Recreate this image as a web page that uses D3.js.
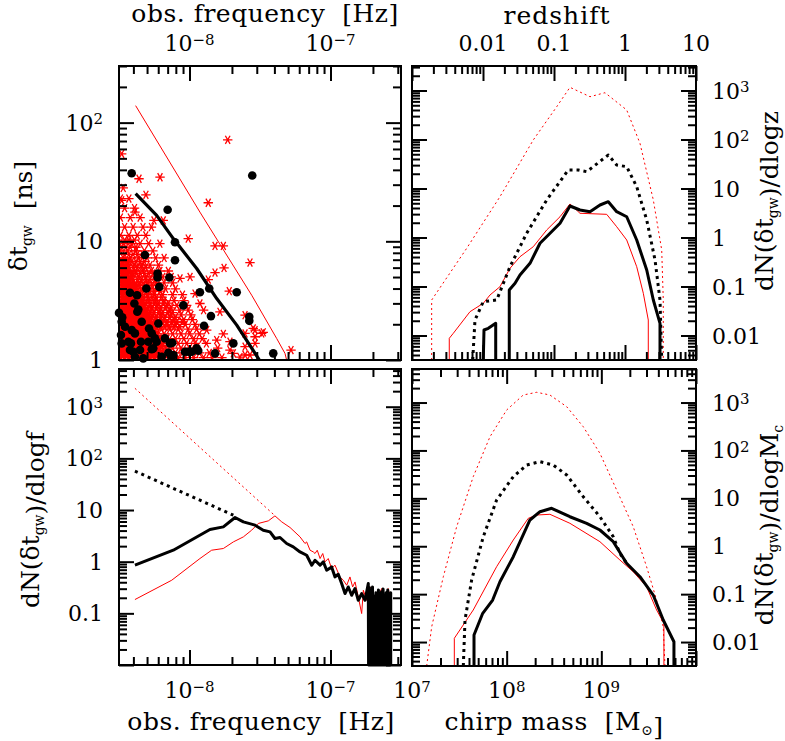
<!DOCTYPE html>
<html>
<head>
<meta charset="utf-8">
<script src="https://cdn.jsdelivr.net/npm/d3@7"></script>
<style>
  body { margin: 0; background: #fff; }
  svg text { font-family: "DejaVu Serif", serif; fill: #000; white-space: pre; }
</style>
</head>
<body>
<div id="chart"></div>
<script>
// all curve / point values are [log10 x, log10 y]

// ---- top left: delta t_gw vs observed frequency ----
const tlRedLine = [[-8.382,2.143],[-7.926,1.246],[-7.559,0.546],[-7.382,0.182],[-7.323,0.056],[-7.311,0]];
const tlBlackLine = [[-8.382,1.401],[-8.233,1.218],[-8.115,1.023],[-7.949,0.771],[-7.807,0.518],[-7.665,0.294],[-7.512,0.014],[-7.505,0]];

const tlCircles = [
  [-8.41,1.574],[-7.555,1.555],[-8.155,1.266],[-8.103,0.992],[-8.316,0.885],[-8.103,0.840],[-8.226,0.729],
  [-8.226,0.695],[-8.143,0.695],[-8.306,0.603],[-8.214,0.616],[-7.86,0.603],[-7.926,0.571],[-7.665,0.571],
  [-8.422,0.566],[-8.372,0.546],[-8.044,0.460],[-8.391,0.476],[-8.363,0.426],[-8.5,0.397],[-7.848,0.370],
  [-7.576,0.364],[-7.576,0.330],[-8.477,0.359],[-8.457,0.280],[-8.339,0.322],[-8.221,0.308],[-7.897,0.288],
  [-8.486,0.210],[-8.387,0.224],[-8.268,0.224],[-8.174,0.182],[-8.481,0.140],[-8.415,0.140],[-8.344,0.154],
  [-8.292,0.154],[-8.233,0.154],[-8.122,0.145],[-7.689,0.140],[-8.422,0.084],[-8.351,0.084],[-8.268,0.090],
  [-8.15,0.061],[-8.032,0.070],[-7.984,0.070],[-7.938,0.078],[-7.819,0.056],[-7.406,0.056],[-8.328,0.014],
  [-8.115,0.042],[-8.387,0.028],[-8.197,0.028],[-8.287,0.266],[-8.399,0.070],[-8.126,0.028],[-8.009,0.070],
  [-8.370,0.406],[-8.481,0.322],[-8.410,0.252],[-8.245,0.182],[-8.138,0.140],[-8.434,0.154],[-8.257,0.098],
  [-7.949,0.098]
];

// dense asterisk cloud, row by row: [log10 dt, [log10 f ...]]
const tlStarRows = [
  [0.02, [-8.49,-8.46,-8.43,-8.40,-8.37,-8.34,-8.31,-8.28,-8.25,-8.22,-8.18,-8.13,-8.08,-8.03,-7.97,-7.90,-7.84,-7.77]],
  [0.06, [-8.48,-8.45,-8.42,-8.39,-8.36,-8.33,-8.30,-8.27,-8.24,-8.20,-8.15,-8.10,-8.05,-7.99,-7.93,-7.86]],
  [0.10, [-8.49,-8.46,-8.43,-8.40,-8.37,-8.34,-8.31,-8.28,-8.25,-8.22,-8.17,-8.12,-8.06,-8.00,-7.95,-7.80]],
  [0.14, [-8.48,-8.45,-8.42,-8.39,-8.36,-8.33,-8.30,-8.27,-8.24,-8.19,-8.14,-8.08,-8.02,-7.96,-7.88]],
  [0.18, [-8.49,-8.46,-8.43,-8.40,-8.37,-8.34,-8.31,-8.28,-8.25,-8.21,-8.16,-8.10,-8.04,-7.97,-7.91]],
  [0.22, [-8.48,-8.45,-8.42,-8.39,-8.36,-8.33,-8.30,-8.27,-8.23,-8.18,-8.12,-8.06,-8.00,-7.93,-7.76]],
  [0.26, [-8.49,-8.46,-8.43,-8.40,-8.37,-8.34,-8.31,-8.28,-8.25,-8.20,-8.14,-8.08,-8.01,-7.95]],
  [0.30, [-8.48,-8.45,-8.42,-8.39,-8.36,-8.33,-8.30,-8.27,-8.22,-8.16,-8.10,-8.03,-7.96]],
  [0.34, [-8.49,-8.46,-8.43,-8.40,-8.37,-8.34,-8.31,-8.28,-8.24,-8.18,-8.11,-8.04,-7.98]],
  [0.38, [-8.48,-8.45,-8.42,-8.39,-8.36,-8.33,-8.30,-8.26,-8.20,-8.13,-8.06,-7.99]],
  [0.42, [-8.49,-8.46,-8.43,-8.40,-8.37,-8.34,-8.31,-8.27,-8.21,-8.14,-8.07,-8.01,-7.90]],
  [0.46, [-8.48,-8.45,-8.42,-8.39,-8.36,-8.32,-8.28,-8.23,-8.16,-8.09,-8.02]],
  [0.50, [-8.49,-8.46,-8.43,-8.40,-8.37,-8.33,-8.29,-8.24,-8.18,-8.11,-8.04]],
  [0.55, [-8.48,-8.45,-8.42,-8.38,-8.34,-8.30,-8.25,-8.19,-8.12,-8.05]],
  [0.60, [-8.49,-8.46,-8.42,-8.38,-8.34,-8.29,-8.23,-8.17,-8.10]],
  [0.65, [-8.48,-8.44,-8.40,-8.35,-8.30,-8.24,-8.18,-8.12]],
  [0.70, [-8.49,-8.45,-8.41,-8.36,-8.31,-8.25,-8.19,-8.13]],
  [0.75, [-8.48,-8.43,-8.38,-8.33,-8.27,-8.21,-8.15]],
  [0.80, [-8.49,-8.44,-8.39,-8.34,-8.28,-8.22]],
  [0.86, [-8.47,-8.42,-8.36,-8.30,-8.24,-8.18]],
  [0.92, [-8.49,-8.44,-8.38,-8.32,-8.26]],
  [0.98, [-8.47,-8.41,-8.35,-8.29,-8.21]],
  [1.05, [-8.49,-8.43,-8.37,-8.31]],
  [1.12, [-8.46,-8.40,-8.33,-8.27]],
  [1.20, [-8.49,-8.42,-8.35]],
  [1.28, [-8.46,-8.39]],
  [1.36, [-8.49,-8.43]],
  [1.45, [-8.47]]
];
// in-between stars of the middle of the cloud
const tlStarMid = [
  [0.28, [-8.235,-8.205,-8.175,-8.145,-8.11,-8.07]],
  [0.32, [-8.250,-8.220,-8.190,-8.160,-8.125,-8.09,-8.05]],
  [0.36, [-8.265,-8.235,-8.205,-8.175,-8.14,-8.10]],
  [0.40, [-8.280,-8.250,-8.220,-8.190,-8.155,-8.12]],
  [0.44, [-8.295,-8.265,-8.235,-8.205,-8.17,-8.13]],
  [0.48, [-8.31,-8.28,-8.25,-8.22,-8.185,-8.15]],
  [0.53, [-8.325,-8.295,-8.265,-8.235,-8.20]],
  [0.58, [-8.37,-8.34,-8.31,-8.28,-8.25,-8.21]],
  [0.63, [-8.355,-8.325,-8.295,-8.265,-8.23]],
  [0.68, [-8.40,-8.37,-8.34,-8.31,-8.28,-8.245]],
  [0.73, [-8.38,-8.35,-8.32,-8.29,-8.26]],
  [0.78, [-8.43,-8.40,-8.37,-8.34,-8.31]],
  [0.83, [-8.41,-8.38,-8.35,-8.32]],
  [0.89, [-8.46,-8.43,-8.40,-8.37,-8.33]],
  [0.95, [-8.48,-8.45,-8.42,-8.38]],
  [1.01, [-8.46,-8.43,-8.39]]
];
// the saturated corner of the cloud
const tlStarFill = [
  [0.04, [-8.475,-8.445,-8.415,-8.385,-8.355,-8.325,-8.295,-8.265,-8.235,-8.20]],
  [0.08, [-8.490,-8.460,-8.430,-8.400,-8.370,-8.340,-8.310,-8.280,-8.250,-8.215]],
  [0.12, [-8.475,-8.445,-8.415,-8.385,-8.355,-8.325,-8.295,-8.265,-8.235,-8.20]],
  [0.16, [-8.490,-8.460,-8.430,-8.400,-8.370,-8.340,-8.310,-8.280,-8.250]],
  [0.20, [-8.475,-8.445,-8.415,-8.385,-8.355,-8.325,-8.295,-8.265,-8.235]],
  [0.24, [-8.490,-8.460,-8.430,-8.400,-8.370,-8.340,-8.310,-8.280,-8.250]],
  [0.28, [-8.475,-8.445,-8.415,-8.385,-8.355,-8.325,-8.295,-8.265]],
  [0.32, [-8.490,-8.460,-8.430,-8.400,-8.370,-8.340,-8.310,-8.280]],
  [0.36, [-8.475,-8.445,-8.415,-8.385,-8.355,-8.325,-8.295]],
  [0.40, [-8.490,-8.460,-8.430,-8.400,-8.370,-8.340,-8.310]],
  [0.44, [-8.475,-8.445,-8.415,-8.385,-8.355,-8.325]],
  [0.48, [-8.490,-8.460,-8.430,-8.400,-8.370,-8.340]],
  [0.53, [-8.475,-8.445,-8.415,-8.385,-8.355]],
  [0.58, [-8.490,-8.460,-8.430,-8.400]],
  [0.63, [-8.475,-8.445,-8.415,-8.385]],
  [0.68, [-8.490,-8.460,-8.430]],
  [0.73, [-8.475,-8.445,-8.410]],
  [0.78, [-8.490,-8.460]],
  [0.83, [-8.475,-8.440]]
];
const tlStarOutliers = [
  [-8.481,1.737],[-7.729,1.855],[-8.358,1.527],[-8.209,1.540],[-8.309,1.392],[-7.867,1.325],[-8.387,1.246],
  [-8.481,1.345],[-8.252,1.176],[-8.186,1.176],[-8.009,1.023],[-7.819,0.961],[-7.760,0.961],[-7.571,0.821],
  [-7.755,0.776],[-7.819,0.737],[-8.067,0.687],[-7.996,0.700],[-7.867,0.678],[-7.961,0.560],[-7.926,0.476],
  [-7.718,0.580],[-7.784,0.406],[-7.606,0.378],[-7.548,0.266],[-7.488,0.224],[-7.535,0.196],[-7.477,0.233],
  [-7.535,0.140],[-7.606,0.112],[-7.280,0.084],[-7.713,0.084],[-7.689,0.056],[-7.807,0.168],[-7.878,0.252],
  [-7.642,0.025],[-7.571,0.042],[-7.606,0.224],[-7.535,0.252],[-7.713,0.154],[-7.606,0.042]
];

// ---- top right: dN/dlogz vs redshift ----
const trRedDotted = [[-2.723,-2.5],[-2.723,-1.276],[-2.23,-0.221],[-1.761,0.833],[-1.292,1.990],[-0.962,2.669],
  [-0.775,3.065],[-0.493,2.873],[-0.282,2.955],[0.024,2.602],[0.211,1.922],[0.399,0.765],[0.517,-0.255],
  [0.539,-1.276],[0.539,-2.5]];
const trBlackDotted = [[-2.145,-2.5],[-2.113,-1.684],[-1.996,-1.310],[-1.807,-1.276],[-1.620,-0.596],
  [-1.385,0.086],[-1.103,0.765],[-0.799,1.378],[-0.658,1.378],[-0.539,1.343],[-0.235,1.684],[-0.117,1.480],
  [0.024,1.445],[0.165,1.037],[0.306,0.357],[0.423,-0.459],[0.493,-1.276],[0.517,-2.5]];
const trRed = [[-2.475,-2.5],[-2.475,-2.057],[-2.418,-1.955],[-2.183,-1.514],[-1.996,-1.343],[-1.901,-1.173],
  [-1.761,-1.004],[-1.620,-0.629],[-1.479,-0.392],[-1.292,-0.188],[-1.103,0.153],[-0.915,0.424],[-0.775,0.684],
  [-0.634,0.494],[-0.258,0.473],[-0.117,0.220],[0.024,-0.051],[0.165,-0.596],[0.258,-1.139],[0.328,-1.684],
  [0.328,-2.5]];
const trBlackLow = [[-1.996,-2.5],[-1.986,-1.888],[-1.925,-1.853],[-1.821,-1.751],[-1.821,-2.5]];
const trBlack = [[-1.630,-2.5],[-1.630,-1.071],[-1.549,-0.935],[-1.479,-0.765],[-1.338,-0.527],[-1.197,-0.118],
  [-1.080,0.051],[-0.915,0.290],[-0.775,0.643],[-0.634,0.561],[-0.493,0.527],[-0.352,0.663],[-0.235,0.731],
  [-0.117,0.527],[0.024,0.424],[0.165,-0.051],[0.306,-0.663],[0.399,-1.276],[0.493,-1.751],[0.493,-2.5]];

// ---- bottom left: dN/dlogf vs observed frequency ----
const blRedDotted = [[-8.387,3.356],[-7.406,0.920]];
const blBlackDotted = [[-8.387,1.753],[-7.689,0.900]];
const blBlack = [[-8.387,-0.068],[-8.115,0.222],[-7.855,0.623],[-7.760,0.674],[-7.677,0.856],[-7.618,0.771],
  [-7.535,0.707],[-7.477,0.610],[-7.429,0.577],[-7.394,0.449],[-7.358,0.468],[-7.311,0.352],[-7.264,0.286],
  [-7.216,0.189],[-7.169,0.125],[-7.133,-0.068],[-7.110,0.028],[-7.074,-0.068],[-7.051,-0.004],[-7.027,-0.165],
  [-6.992,-0.101],[-6.968,-0.295],[-6.945,-0.243],[-6.921,-0.423],[-6.897,-0.617],[-6.874,-0.489],[-6.850,-0.650],
  [-6.826,-0.520],[-6.803,-0.747],[-6.779,-0.617],[-6.755,-0.747],[-6.732,-0.423],[-6.730,-2],[-6.724,-0.50],
  [-6.719,-2],[-6.712,-0.56],[-6.707,-2],[-6.702,-0.49],[-6.699,-2],[-6.695,-0.66],[-6.692,-2],[-6.680,-2],
  [-6.678,-0.60],[-6.674,-2],[-6.670,-0.60],[-6.665,-2],[-6.660,-0.55],[-6.654,-2],[-6.649,-0.62],[-6.643,-2],
  [-6.638,-0.58],[-6.632,-2],[-6.627,-0.53],[-6.621,-2],[-6.616,-0.66],[-6.610,-2],[-6.605,-0.60],[-6.599,-2],
  [-6.594,-0.55],[-6.588,-2],[-6.583,-0.63],[-6.577,-2],[-6.573,-0.60],[-6.573,-2]];
const blRed = [[-8.387,-0.733],[-8.126,-0.359],[-7.926,0.061],[-7.843,0.222],[-7.760,0.255],[-7.689,0.383],
  [-7.618,0.480],[-7.559,0.610],[-7.512,0.740],[-7.441,0.790],[-7.394,0.887],[-7.346,0.771],[-7.287,0.662],
  [-7.216,0.480],[-7.181,0.352],[-7.169,0.383],[-7.145,0.222],[-7.122,0.189],[-7.110,0.158],[-7.094,0.222],
  [-7.074,0.061],[-7.055,0.158],[-7.039,-0.004],[-7.016,0.061],[-6.992,-0.133],[-6.968,-0.068],[-6.933,-0.295],
  [-6.909,-0.359],[-6.885,-0.456],[-6.862,-0.295],[-6.843,-0.489],[-6.826,-0.392],[-6.803,-0.682],[-6.779,-1.004],
  [-6.767,-0.553],[-6.744,-0.747],[-6.720,-0.489],[-6.708,-1.004],[-6.684,-0.747],[-6.661,-0.682],[-6.637,-0.520],
  [-6.613,-0.714],[-6.590,-0.520],[-6.578,-0.714]];

// ---- bottom right: dN/dlogMc vs chirp mass ----
const brRedDotted = [[7.155,-2.5],[7.208,-1.680],[7.331,-0.636],[7.472,0.408],[7.647,1.452],[7.824,2.287],
  [8.0,2.844],[8.175,3.157],[8.317,3.214],[8.457,3.157],[8.634,2.913],[8.809,2.495],[8.985,1.940],[9.162,1.174],
  [9.337,0.408],[9.478,-0.427],[9.584,-1.123],[9.654,-1.680],[9.672,-2.5]];
const brBlackDotted = [[7.542,-2.5],[7.560,-1.540],[7.630,-0.705],[7.753,0.199],[7.894,0.965],[8.070,1.452],
  [8.211,1.696],[8.352,1.765],[8.492,1.696],[8.634,1.487],[8.809,1.034],[8.985,0.616],[9.126,0.199],[9.196,-0.148],
  [9.267,-0.356]];
const brRed = [[7.447,-2.5],[7.447,-1.922],[7.647,-1.331],[7.894,-0.427],[8.070,0.130],[8.228,0.583],[8.317,0.652],
  [8.457,0.667],[8.668,0.479],[8.985,0.095],[9.196,-0.287],[9.337,-0.532],[9.478,-0.845],[9.584,-1.331],
  [9.661,-1.609],[9.661,-2.5]];
const brBlack = [[7.655,-2.5],[7.655,-1.853],[7.747,-1.400],[7.852,-1.123],[7.929,-0.741],[8.070,-0.219],
  [8.246,0.548],[8.352,0.721],[8.475,0.792],[8.668,0.616],[8.845,0.479],[8.985,0.339],[9.126,0.095],
  [9.267,-0.356],[9.408,-0.636],[9.548,-1.018],[9.654,-1.540],[9.767,-1.993],[9.767,-2.5]];

// ---- tick labels ----
const freqTicks = [1e-8, 1e-7], freqLabels = ["10^−8", "10^−7"];
const dtTicks = [1, 10, 100], dtLabels = ["1", "10", "10^2"];
const zTicks = [0.01, 0.1, 1, 10], zLabels = ["0.01", "0.1", "1", "10"];
const dnzTicks = [0.01, 0.1, 1, 10, 100, 1000], dnzLabels = ["0.01", "0.1", "1", "10", "10^2", "10^3"];
const dnfTicks = [0.1, 1, 10, 100, 1000], dnfLabels = ["0.1", "1", "10", "10^2", "10^3"];
const mTicks = [1e7, 1e8, 1e9], mLabels = ["10^7", "10^8", "10^9"];

const svg = d3.select("#chart").append("svg").attr("width", 785).attr("height", 741);

function panel(box, xDomain, yDomain, id) {
  const x = d3.scaleLog().domain(xDomain).range([box.left, box.right]);
  const y = d3.scaleLog().domain(yDomain).range([box.bottom, box.top]);
  const g = svg.append("g");
  svg.append("clipPath").attr("id", id)
    .append("rect").attr("x", box.left).attr("y", box.top)
    .attr("width", box.right - box.left).attr("height", box.bottom - box.top);
  return {x, y, g, box, id};
}

const tl = panel({left: 119, right: 401, top: 66, bottom: 360}, [10 ** -8.5, 10 ** -6.5], [1, 300], "c-tl");
const tr = panel({left: 412, right: 696, top: 66, bottom: 360}, [1e-3, 10], [10 ** -2.5, 10 ** 3.5], "c-tr");
const bl = panel({left: 119, right: 401, top: 369, bottom: 665}, [10 ** -8.5, 10 ** -6.5], [1e-2, 10 ** 3.73], "c-bl");
const br = panel({left: 412, right: 696, top: 369, bottom: 666}, [1e7, 1e10], [10 ** -2.5, 10 ** 3.7], "c-br");

function frame(p) {
  const isMajor = v => Math.abs(Math.log10(v) - Math.round(Math.log10(v))) < 1e-6;
  const xt = p.x.ticks(), yt = p.y.ticks();
  const groups = [
    [xt.filter(isMajor), yt.filter(isMajor), 15],
    [xt.filter(v => !isMajor(v)), yt.filter(v => !isMajor(v)), 8]
  ];
  groups.forEach(([xs, ys, len]) => {
    const sides = [
      [d3.axisBottom(p.x).tickValues(xs), `translate(0,${p.box.bottom})`],
      [d3.axisTop(p.x).tickValues(xs), `translate(0,${p.box.top})`],
      [d3.axisLeft(p.y).tickValues(ys), `translate(${p.box.left},0)`],
      [d3.axisRight(p.y).tickValues(ys), `translate(${p.box.right},0)`]
    ];
    sides.forEach(([axis, tf]) => {
      p.g.append("g").attr("transform", tf)
        .call(axis.tickSize(-len).tickFormat(""))
        .call(g => g.select(".domain").remove())
        .call(g => g.selectAll("line").attr("stroke-width", 2));
    });
  });
  p.g.append("rect")
    .attr("x", p.box.left).attr("y", p.box.top)
    .attr("width", p.box.right - p.box.left).attr("height", p.box.bottom - p.box.top)
    .attr("fill", "none").attr("stroke", "#000").attr("stroke-width", 2);
}

// "10^3" -> 10 with superscript 3
function supText(sel, str) {
  const [base, sup] = str.split("^");
  sel.append("tspan").text(base);
  if (sup) sel.append("tspan").attr("dy", "-0.42em").attr("font-size", "0.68em").text(sup);
}

function xLabels(p, ticks, labels, yPos) {
  ticks.forEach((v, i) => {
    const t = svg.append("text").attr("x", p.x(v)).attr("y", yPos)
      .attr("text-anchor", "middle").attr("font-size", 22);
    supText(t, labels[i]);
  });
}
function yLabels(p, ticks, labels, xPos, anchor) {
  ticks.forEach((v, i) => {
    const t = svg.append("text").attr("x", xPos).attr("y", p.y(v) + 8)
      .attr("text-anchor", anchor).attr("font-size", 22);
    supText(t, labels[i]);
  });
}

// segments: [text, "sub"|undefined]
function title(x, y, segs, rotate, spacing) {
  const t = svg.append("text").attr("font-size", 25).attr("text-anchor", "middle")
    .attr("letter-spacing", spacing || 0)
    .attr("transform", `translate(${x},${y})` + (rotate ? " rotate(-90)" : ""));
  segs.forEach(([s, kind]) => {
    if (kind === "sub") {
      t.append("tspan").attr("dy", "0.34em").attr("font-size", "0.56em").text(s);
      t.append("tspan").attr("dy", "-0.19em").text("");
    } else {
      t.append("tspan").text(s);
    }
  });
}

const line = p => d3.line().x(d => p.x(10 ** d[0])).y(d => p.y(10 ** d[1]));

function curve(p, data, color, width, dash) {
  p.g.append("path").datum(data)
    .attr("d", line(p))
    .attr("fill", "none").attr("stroke", color).attr("stroke-width", width)
    .attr("stroke-dasharray", dash || null)
    .attr("stroke-linejoin", "round");
}

// ---------- top left ----------
const rowsToPoints = rows => rows.flatMap(([t, fs]) => fs.map(f => [f, t]));
const starSym = d3.symbol().type(d3.symbolAsterisk || d3.symbolCross).size(62);
function starLayer(data, width) {
  tl.g.append("g").attr("clip-path", `url(#${tl.id})`)
    .selectAll("path").data(data).join("path")
    .attr("transform", d => `translate(${tl.x(10 ** d[0])},${tl.y(10 ** d[1])}) rotate(90)`)
    .attr("d", starSym)
    .attr("fill", "none").attr("stroke", "#ff0000").attr("stroke-width", width);
}
starLayer(rowsToPoints(tlStarFill), 2.4);
starLayer(rowsToPoints(tlStarRows).concat(rowsToPoints(tlStarMid), tlStarOutliers), 1.3);
curve(tl, tlRedLine, "#ff0000", 1);
tl.g.append("g").selectAll("circle").data(tlCircles).join("circle")
  .attr("cx", d => tl.x(10 ** d[0])).attr("cy", d => tl.y(10 ** d[1]))
  .attr("r", 4.3).attr("fill", "#000");
curve(tl, tlBlackLine, "#000", 3.2);
frame(tl);

// ---------- top right ----------
curve(tr, trRedDotted, "#ff0000", 1, "2,3");
curve(tr, trRed, "#ff0000", 1);
curve(tr, trBlackDotted, "#000", 3, "3,4");
curve(tr, trBlackLow, "#000", 3);
curve(tr, trBlack, "#000", 3);
frame(tr);

// ---------- bottom left ----------
curve(bl, blRedDotted, "#ff0000", 1, "2,3");
curve(bl, blRed, "#ff0000", 1);
curve(bl, blBlackDotted, "#000", 3, "3,4");
curve(bl, blBlack, "#000", 3);
frame(bl);

// ---------- bottom right ----------
curve(br, brRedDotted, "#ff0000", 1, "2,3");
curve(br, brRed, "#ff0000", 1);
curve(br, brBlackDotted, "#000", 3, "3,4");
curve(br, brBlack, "#000", 3);
frame(br);

// ---------- labels ----------
xLabels(tl, freqTicks, freqLabels, 51);
xLabels(tr, zTicks, zLabels, 51);
xLabels(bl, freqTicks, freqLabels, 698);
xLabels(br, mTicks, mLabels, 698);
yLabels(tl, dtTicks, dtLabels, 103, "end");
yLabels(bl, dnfTicks, dnfLabels, 103, "end");
yLabels(tr, dnzTicks, dnzLabels, 712, "start");
yLabels(br, dnzTicks, dnzLabels, 712, "start");

title(265, 22, [["obs. frequency  [Hz]"]], false, 0.5);
title(557, 24, [["redshift"]], false, 1);
title(261, 730, [["obs. frequency  [Hz]"]], false, 0.5);
title(554, 730, [["chirp mass  [M"], ["⊙", "sub"], ["]"]], false, 0.5);
title(27, 216, [["δt"], ["gw", "sub"], ["  [ns]"]], true);
title(39, 520, [["dN(δt"], ["gw", "sub"], [")/dlogf"]], true);
title(773, 201, [["dN(δt"], ["gw", "sub"], [")/dlogz"]], true);
title(773, 525, [["dN(δt"], ["gw", "sub"], [")/dlogM"], ["c", "sub"]], true);
</script>
</body>
</html>
